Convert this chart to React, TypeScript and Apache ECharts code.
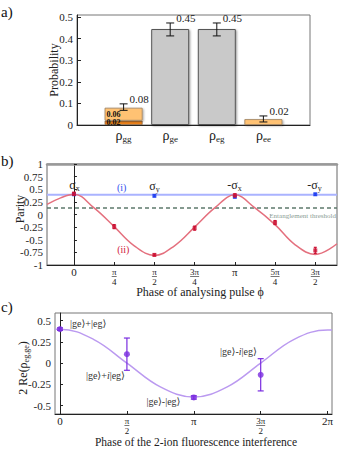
import React, { useEffect, useRef } from 'react';
import * as echarts from 'echarts';

const FONT = 'Liberation Serif, DejaVu Serif, Times New Roman, serif';

// ---------- Panel a: populations ----------
const probCategories = ['', 'gg', 'ge', 'eg', 'ee', ''];
const probDark = [null, 0.02, null, null, null, null];
const probLight = [null, 0.06, null, null, 0.027, null];
const probGray = [null, null, 0.445, 0.445, null, null];
const probErrIndex = [1, 2, 3, 4];
const probErrCenter = [0.083, 0.443, 0.443, 0.028];
const probErrHalf = [0.015, 0.03, 0.03, 0.014];
const probValueLabels = ['0.08', '0.45', '0.45', '0.02'];
const probYTicks = [0, 0.1, 0.2, 0.3, 0.4, 0.5];

// ---------- Panel b: parity (phase in units of pi/4) ----------
const parityXTicks = [0, 1, 2, 3, 4, 5, 6];
const parityXLabels = ['0', 'π/4', 'π/2', '3π/4', 'π', '5π/4', '3π/2'];
const parityYTicks = [-1, -0.75, -0.5, -0.25, 0, 0.25, 0.5, 0.75, 1];
const redPhase = [0, 1, 2, 3, 4, 5, 6];
const redParity = [0.41, -0.24, -0.8, -0.27, 0.38, -0.16, -0.71];
const redErr = [0.03, 0.04, 0.02, 0.04, 0.03, 0.04, 0.06];
const bluePhase = [0, 2, 4, 6];
const blueParity = [0.4, 0.37, 0.35, 0.4];
const blueErr = [0.02, 0.02, 0.02, 0.02];
const blueLevel = 0.39;
const thresholdLevel = 0.13;
const redFitPhase = [-0.67, -0.33, 0, 0.5, 1, 1.5, 2, 2.5, 3, 3.5, 4, 4.5, 5, 5.5, 6, 6.54];
const redFitParity = [0.2, 0.33, 0.4, 0.13, -0.24, -0.62, -0.81, -0.62, -0.25, 0.13, 0.39, 0.13, -0.2, -0.6, -0.79, -0.58];

// ---------- Panel c: 2Re(rho) (phase in units of pi/2) ----------
const fluorXTicks = [0, 1, 2, 3, 4];
const fluorXLabels = ['0', 'π/2', 'π', '3π/2', '2π'];
const fluorYTicks = [-0.5, -0.25, 0, 0.25, 0.5];
const fluorPhase = [0, 1, 2, 3];
const fluorValue = [0.4, 0.105, -0.405, -0.138];
const fluorErr = [0.015, 0.19, 0.02, 0.19];
const fluorFitPhase = [-0.075, 0, 0.5, 1, 1.5, 2, 2.5, 3, 3.5, 4, 4.066];
const fluorFitValue = [0.4, 0.4, 0.28, 0.0, -0.28, -0.4, -0.28, 0.0, 0.28, 0.39, 0.39];

const zip = (a: number[], b: number[]) => a.map((v, i) => [v, b[i]]);
const zip3 = (a: number[], b: number[], c: number[]) => a.map((v, i) => [v, b[i], c[i]]);

const fracLabel = (s: string) => {
  const parts = s.split('/');
  if (parts.length < 2) return `{w|${s}}`;
  const bar = parts[0].length > 1 ? 'L' : 'l';
  return `{n|${parts[0]}}\n{${bar}| }\n{d|${parts[1]}}`;
};
const fracRich = {
  w: { fontSize: 11, lineHeight: 10, fontFamily: FONT, color: '#222' },
  n: { fontSize: 9, lineHeight: 9, fontFamily: FONT, color: '#222' },
  l: { fontSize: 1, lineHeight: 1, height: 0.8, width: 5, backgroundColor: '#555', color: '#555' },
  L: { fontSize: 1, lineHeight: 1, height: 0.8, width: 9, backgroundColor: '#555', color: '#555' },
  d: { fontSize: 9, lineHeight: 9, fontFamily: FONT, color: '#222' },
};

const errorBar = (cap: number, color: string, lw: number, labels?: string[]) => (params: any, api: any) => {
  const x = api.value(0);
  const y = api.value(1);
  const e = api.value(2);
  const t = api.coord([x, y + e]);
  const b = api.coord([x, y - e]);
  const st = { stroke: color, lineWidth: lw };
  const children: any[] = [
    { type: 'line', shape: { x1: t[0], y1: t[1], x2: b[0], y2: b[1] }, style: st },
    { type: 'line', shape: { x1: t[0] - cap, y1: t[1], x2: t[0] + cap, y2: t[1] }, style: st },
    { type: 'line', shape: { x1: b[0] - cap, y1: b[1], x2: b[0] + cap, y2: b[1] }, style: st },
  ];
  if (labels) {
    children.push({
      type: 'text',
      x: t[0] + cap + 2,
      y: t[1] + 1,
      style: { text: labels[params.dataIndex], fontSize: 11, fontFamily: FONT, fill: '#222', align: 'left', verticalAlign: 'bottom' },
    });
  }
  return { type: 'group', children };
};

const yAxisCommon = (gridIndex: number, min: number, max: number, ticks: number[]) => ({
  type: 'value',
  gridIndex,
  min,
  max,
  splitLine: { show: false },
  axisLine: { show: true, lineStyle: { color: '#222', width: 1 } },
  axisTick: { show: true, inside: true, length: 3, customValues: ticks, lineStyle: { color: '#222' } },
  axisLabel: {
    customValues: ticks,
    formatter: (v: number) => String(v),
    fontSize: 11,
    fontFamily: FONT,
    color: '#222',
    margin: 4,
  },
});

const sigma = (prefix: string, sub: string) => `${prefix}{s|σ}{b|${sub}}`;
const sigmaRich = {
  s: { fontSize: 12, fontFamily: FONT, fill: '#222', verticalAlign: 'middle', lineHeight: 12 },
  b: { fontSize: 8, fontFamily: FONT, fill: '#222', verticalAlign: 'middle', lineHeight: 8, padding: [6, 0, 0, 0] },
};

const buildOption = () => ({
  animation: false,
  backgroundColor: '#ffffff',
  textStyle: { fontFamily: FONT },
  grid: [
    { left: 77, top: 15, width: 233, height: 110, show: true, borderColor: '#777', borderWidth: 1 },
    { left: 47, top: 164, width: 290, height: 101, show: true, borderColor: '#666', borderWidth: 1 },
    { left: 55, top: 313, width: 277, height: 101, show: true, borderColor: '#777', borderWidth: 1 },
  ],
  xAxis: [
    {
      type: 'category',
      gridIndex: 0,
      data: probCategories,
      boundaryGap: false,
      axisLine: { show: true, lineStyle: { color: '#222', width: 1 } },
      axisTick: { show: false },
      axisLabel: {
        interval: 0,
        margin: 4,
        formatter: (v: string) => (v ? `{r|ρ}{s|${v}}` : ''),
        rich: {
          r: { fontSize: 14, fontFamily: FONT, color: '#222', verticalAlign: 'middle', lineHeight: 13 },
          s: { fontSize: 9, fontFamily: FONT, color: '#222', verticalAlign: 'middle', lineHeight: 9, padding: [7, 0, 0, 0] },
        },
      },
    },
    {
      type: 'value',
      gridIndex: 1,
      min: -0.67,
      max: 6.54,
      splitLine: { show: false },
      axisLine: { show: true, onZero: false, lineStyle: { color: '#222', width: 1 } },
      axisTick: { show: true, inside: true, length: 3, customValues: parityXTicks, lineStyle: { color: '#222' } },
      axisLabel: {
        customValues: parityXTicks,
        margin: 2,
        formatter: (v: number) => fracLabel(parityXLabels[Math.round(v)]),
        rich: fracRich,
      },
    },
    {
      type: 'value',
      gridIndex: 1,
      position: 'top',
      min: -0.67,
      max: 6.54,
      splitLine: { show: false },
      axisLine: { show: true, onZero: false, lineStyle: { color: '#999', width: 2.5 } },
      axisTick: { show: false },
      axisLabel: { show: false },
    },
    {
      type: 'value',
      gridIndex: 2,
      min: -0.075,
      max: 4.066,
      splitLine: { show: false },
      axisLine: { show: true, onZero: false, lineStyle: { color: '#222', width: 1 } },
      axisTick: { show: true, inside: true, length: 3, customValues: fluorXTicks, lineStyle: { color: '#222' } },
      axisLabel: {
        customValues: fluorXTicks,
        margin: 2,
        formatter: (v: number) => fracLabel(fluorXLabels[Math.round(v)]),
        rich: fracRich,
      },
    },
  ],
  yAxis: [
    { ...yAxisCommon(0, 0, 0.51, probYTicks), axisTick: { show: true, inside: true, length: 4, customValues: probYTicks, lineStyle: { color: '#222' } } },
    yAxisCommon(1, -1, 1, parityYTicks),
    yAxisCommon(2, -0.6, 0.59, fluorYTicks),
  ],
  series: [
    {
      type: 'bar',
      xAxisIndex: 0,
      yAxisIndex: 0,
      stack: 'p',
      barWidth: 38,
      data: probDark,
      itemStyle: { color: '#f0841a', borderColor: '#8a6a4a', borderWidth: 0.8 },
      label: {
        show: true,
        position: 'insideLeft',
        distance: 2,
        formatter: (p: any) => (p.dataIndex === 1 && p.value != null ? Number(p.value).toFixed(2) : ''),
        fontSize: 8,
        fontWeight: 'bold',
        fontFamily: FONT,
        color: '#111',
      },
    },
    {
      type: 'bar',
      xAxisIndex: 0,
      yAxisIndex: 0,
      stack: 'p',
      barWidth: 38,
      data: probLight,
      itemStyle: { color: '#ffc273', borderColor: '#9a8060', borderWidth: 0.8, shadowBlur: 2, shadowColor: 'rgba(0,0,0,0.35)', shadowOffsetX: 1, shadowOffsetY: 1 },
      label: {
        show: true,
        position: 'insideLeft',
        distance: 2,
        formatter: (p: any) => (p.dataIndex === 1 && p.value != null ? Number(p.value).toFixed(2) : ''),
        fontSize: 8,
        fontWeight: 'bold',
        fontFamily: FONT,
        color: '#111',
      },
    },
    {
      type: 'bar',
      xAxisIndex: 0,
      yAxisIndex: 0,
      stack: 'p',
      barWidth: 38,
      data: probGray,
      itemStyle: { color: '#c9c9c9', borderColor: '#555', borderWidth: 1, shadowBlur: 2, shadowColor: 'rgba(0,0,0,0.4)', shadowOffsetX: 1, shadowOffsetY: 1 },
    },
    {
      type: 'custom',
      xAxisIndex: 0,
      yAxisIndex: 0,
      encode: { x: 0, y: 1 },
      data: zip3(probErrIndex, probErrCenter, probErrHalf),
      renderItem: errorBar(4, '#111', 1, probValueLabels),
      z: 5,
    },
    // panel b
    {
      type: 'line',
      xAxisIndex: 1,
      yAxisIndex: 1,
      data: [[-0.67, blueLevel], [6.54, blueLevel]],
      symbol: 'none',
      lineStyle: { color: '#aab3ff', width: 2 },
    },
    {
      type: 'line',
      xAxisIndex: 1,
      yAxisIndex: 1,
      data: [[-0.67, thresholdLevel], [6.54, thresholdLevel]],
      symbol: 'none',
      lineStyle: { color: '#5d7a6c', width: 1.5, type: [4, 3] },
    },
    {
      type: 'line',
      xAxisIndex: 1,
      yAxisIndex: 1,
      data: zip(redFitPhase, redFitParity),
      symbol: 'none',
      smooth: 0.4,
      lineStyle: { color: '#e4707e', width: 1.5 },
    },
    {
      type: 'custom',
      xAxisIndex: 1,
      yAxisIndex: 1,
      encode: { x: 0, y: 1 },
      data: zip3(bluePhase, blueParity, blueErr),
      renderItem: errorBar(1.5, '#2040f0', 1.2),
      z: 4,
    },
    {
      type: 'scatter',
      xAxisIndex: 1,
      yAxisIndex: 1,
      data: zip(bluePhase, blueParity),
      symbol: 'rect',
      symbolSize: [4, 4],
      itemStyle: { color: '#2040f0' },
      z: 4,
    },
    {
      type: 'custom',
      xAxisIndex: 1,
      yAxisIndex: 1,
      encode: { x: 0, y: 1 },
      data: zip3(redPhase, redParity, redErr),
      renderItem: errorBar(1.5, '#cc1133', 1.2),
      z: 5,
    },
    {
      type: 'scatter',
      xAxisIndex: 1,
      yAxisIndex: 1,
      data: zip(redPhase, redParity),
      symbol: 'rect',
      symbolSize: [4, 4],
      itemStyle: { color: '#cc1133' },
      z: 5,
    },
    // panel c
    {
      type: 'line',
      xAxisIndex: 3,
      yAxisIndex: 2,
      data: zip(fluorFitPhase, fluorFitValue),
      symbol: 'none',
      smooth: 0.4,
      lineStyle: { color: '#bb9af0', width: 1.5 },
    },
    {
      type: 'custom',
      xAxisIndex: 3,
      yAxisIndex: 2,
      encode: { x: 0, y: 1 },
      data: zip3(fluorPhase, fluorValue, fluorErr),
      renderItem: errorBar(3, '#7a2de0', 1.2),
      z: 5,
    },
    {
      type: 'scatter',
      xAxisIndex: 3,
      yAxisIndex: 2,
      data: zip(fluorPhase, fluorValue),
      symbol: 'circle',
      symbolSize: 6,
      itemStyle: { color: '#7a2de0' },
      z: 5,
    },
  ],
  graphic: [
    { type: 'text', x: 1, y: 12, style: { text: 'a)', fontSize: 15, fontFamily: FONT, fill: '#111', align: 'left', verticalAlign: 'middle' } },
    { type: 'text', x: 1, y: 161, style: { text: 'b)', fontSize: 15, fontFamily: FONT, fill: '#111', align: 'left', verticalAlign: 'middle' } },
    { type: 'text', x: 1, y: 307, style: { text: 'c)', fontSize: 15, fontFamily: FONT, fill: '#111', align: 'left', verticalAlign: 'middle' } },
    { type: 'text', x: 54, y: 70, rotation: Math.PI / 2, style: { text: 'Probability', fontSize: 12, fontFamily: FONT, fill: '#222', align: 'center', verticalAlign: 'middle' } },
    { type: 'text', x: 19.5, y: 209, rotation: Math.PI / 2, style: { text: 'Parity', fontSize: 12, fontFamily: FONT, fill: '#222', align: 'center', verticalAlign: 'middle' } },
    {
      type: 'text', x: 23, y: 368, rotation: Math.PI / 2,
      style: {
        text: '{m|2 Re(ρ}{s|eg,ge}{m|)}', fill: '#222', align: 'center', verticalAlign: 'middle',
        rich: {
          m: { fontSize: 12, fontFamily: FONT, fill: '#222', verticalAlign: 'middle', lineHeight: 12 },
          s: { fontSize: 8, fontFamily: FONT, fill: '#222', verticalAlign: 'middle', lineHeight: 8, padding: [6, 0, 0, 0] },
        },
      },
    },
    { type: 'text', x: 200, y: 292, style: { text: 'Phase of analysing pulse ϕ', fontSize: 12, fontFamily: FONT, fill: '#222', align: 'center', verticalAlign: 'middle' } },
    { type: 'text', x: 196, y: 442, style: { text: 'Phase of the 2-ion fluorescence interference', fontSize: 11.5, fontFamily: FONT, fill: '#222', align: 'center', verticalAlign: 'middle' } },
    { type: 'text', x: 74.5, y: 185, style: { text: sigma('', 'x'), rich: sigmaRich, fill: '#222', align: 'center', verticalAlign: 'middle', fontSize: 12, fontFamily: FONT } },
    { type: 'text', x: 154.5, y: 186, style: { text: sigma('', 'y'), rich: sigmaRich, fill: '#222', align: 'center', verticalAlign: 'middle', fontSize: 12, fontFamily: FONT } },
    { type: 'text', x: 234.5, y: 185, style: { text: sigma('-', 'x'), rich: sigmaRich, fill: '#222', align: 'center', verticalAlign: 'middle', fontSize: 12, fontFamily: FONT } },
    { type: 'text', x: 314.5, y: 185, style: { text: sigma('-', 'y'), rich: sigmaRich, fill: '#222', align: 'center', verticalAlign: 'middle', fontSize: 12, fontFamily: FONT } },
    { type: 'text', x: 121.7, y: 187.5, style: { text: '(i)', fontSize: 10, fontFamily: FONT, fill: '#3050ee', align: 'center', verticalAlign: 'middle' } },
    { type: 'text', x: 123.3, y: 249, style: { text: '(ii)', fontSize: 10, fontFamily: FONT, fill: '#d02040', align: 'center', verticalAlign: 'middle' } },
    { type: 'text', x: 336, y: 215.5, style: { text: 'Entanglement threshold', fontSize: 7, fontFamily: FONT, fill: '#8a9c94', align: 'right', verticalAlign: 'middle' } },
    { type: 'text', x: 70, y: 323.5, style: { text: '|ge⟩+|eg⟩', fontSize: 10, fontFamily: FONT, fill: '#333', align: 'left', verticalAlign: 'middle' } },
    {
      type: 'text', x: 125, y: 375,
      style: {
        text: '{n||ge⟩+}{i|i}{n||eg⟩}', fill: '#333', align: 'right', verticalAlign: 'middle',
        rich: { n: { fontSize: 10, fontFamily: FONT, fill: '#333' }, i: { fontSize: 10, fontFamily: FONT, fontStyle: 'italic', fill: '#333' } },
      },
    },
    { type: 'text', x: 163.5, y: 401.5, style: { text: '|ge⟩-|eg⟩', fontSize: 10, fontFamily: FONT, fill: '#333', align: 'center', verticalAlign: 'middle' } },
    {
      type: 'text', x: 238.5, y: 351.5,
      style: {
        text: '{n||ge⟩-}{i|i}{n||eg⟩}', fill: '#333', align: 'center', verticalAlign: 'middle',
        rich: { n: { fontSize: 10, fontFamily: FONT, fill: '#333' }, i: { fontSize: 10, fontFamily: FONT, fontStyle: 'italic', fill: '#333' } },
      },
    },
  ],
});

export default function App() {
  const ref = useRef<HTMLDivElement>(null);
  useEffect(() => {
    if (!ref.current) return;
    const chart = echarts.init(ref.current, undefined, { renderer: 'svg' });
    chart.setOption(buildOption() as any);
    return () => chart.dispose();
  }, []);
  return <div ref={ref} style={{ position: 'absolute', left: 0, top: 0, width: 343, height: 449 }} />;
}
